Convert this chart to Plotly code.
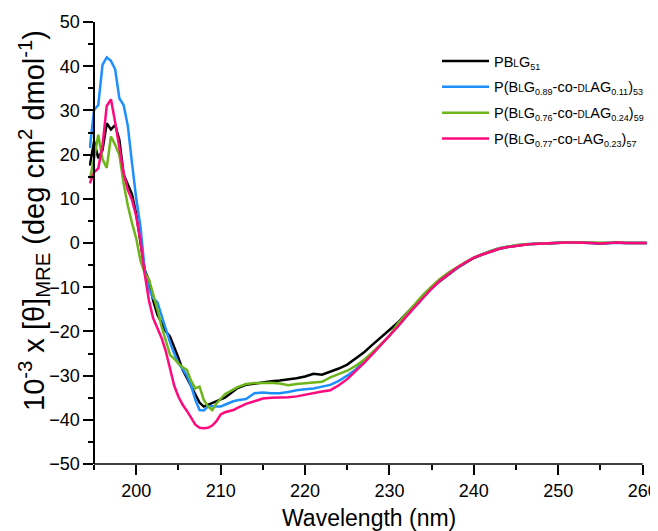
import plotly.graph_objects as go

# ---------------- data ----------------
wavelength_nm = [194.5, 195.0, 195.5, 196.0, 196.5, 197.0, 197.5, 198.0, 198.5, 199.0,
                 199.5, 200.0, 200.5, 201.0, 201.5, 202.0, 202.5, 203.0, 203.5, 204.0,
                 204.5, 205.0, 205.5, 206.0, 206.5, 207.0, 207.5, 208.0, 208.5, 209.0,
                 209.5, 210.0, 210.5, 211.0, 211.5, 212.0,
                 213, 214, 215, 216, 217, 218, 219, 220, 221, 222, 223, 224, 225, 226,
                 227, 228, 229, 230, 231, 232, 233, 234, 235, 236, 237, 238, 239, 240,
                 241, 242, 243, 244, 245, 246, 247, 248, 249, 250, 251, 252, 253, 254,
                 255, 256, 257, 258, 259, 260, 260.5]

pblg51 = [17.5, 23.0, 19.2, 21.0, 27.1, 25.7, 26.7, 23.3, 15.5, 13.3,
          11.0, 6.5, 0.0, -6.1, -8.5, -13.0, -16.2, -18.2, -20.0, -21.2,
          -23.5, -26.0, -28.7, -30.6, -32.5, -34.4, -36.1, -37.0, -36.6, -36.2,
          -35.9, -35.4, -35.0, -34.3, -33.6, -32.8,
          -32.1, -31.8, -31.5, -31.3, -31.1, -30.9, -30.6, -30.2, -29.6, -29.8,
          -29.1, -28.4, -27.5, -26.2, -24.7, -23.0, -21.3, -19.7, -18.0, -16.0,
          -14.0, -12.0, -10.2, -8.6, -7.1, -5.7, -4.5, -3.4, -2.6, -1.9,
          -1.3, -0.9, -0.6, -0.4, -0.2, -0.1, 0.0, 0.0, 0.1, 0.1,
          0.1, 0.0, -0.1, 0.0, 0.1, 0.0, 0.0, 0.0, 0.0]

p_dlag011 = [21.5, 30.1, 31.2, 40.3, 42.0, 41.2, 39.3, 32.7, 31.2, 26.5,
             18.0, 10.0, 3.7, -6.1, -10.5, -12.5, -13.4, -16.5, -19.5, -22.5,
             -25.0, -27.2, -28.5, -30.0, -32.3, -35.5, -37.8, -37.9, -37.0, -36.9,
             -37.0, -37.0, -36.6, -36.2, -35.8, -35.6,
             -35.3, -34.0, -33.8, -34.0, -34.0, -33.7, -33.3, -33.1, -32.9, -32.5,
             -32.1, -31.2, -30.0, -28.6, -26.9, -25.0, -23.0, -21.0, -18.9, -16.6,
             -14.4, -12.3, -10.3, -8.5, -7.0, -5.6, -4.4, -3.3, -2.5, -1.8,
             -1.2, -0.8, -0.5, -0.3, -0.2, -0.1, 0.0, 0.0, 0.1, 0.1,
             0.0, 0.0, 0.0, 0.0, 0.1, 0.0, 0.0, 0.0, 0.0]

p_dlag024 = [14.5, 19.0, 24.5, 19.0, 17.0, 24.1, 22.2, 19.9, 13.5, 8.5,
             4.5, 1.0, -4.0, -6.8, -8.2, -11.5, -15.0, -18.9, -22.3, -25.3,
             -26.2, -27.3, -28.1, -28.7, -31.2, -32.9, -32.5, -35.5, -37.0, -37.8,
             -36.3, -35.3, -34.2, -33.7, -33.2, -32.6,
             -31.9, -31.7, -31.7, -31.6, -31.8, -32.2, -31.9, -31.7, -31.5, -31.4,
             -30.4, -29.7, -28.9, -27.8, -26.4, -24.7, -22.9, -21.0, -18.2, -16.0,
             -13.8, -11.7, -9.8, -8.1, -6.7, -5.4, -4.3, -3.3, -2.5, -1.8,
             -1.2, -0.8, -0.5, -0.3, -0.2, -0.1, 0.0, 0.1, 0.1, 0.1,
             0.1, 0.0, 0.0, 0.0, 0.1, 0.0, 0.0, 0.0, 0.0]

p_lag023 = [13.5, 16.0, 16.9, 22.0, 31.0, 32.5, 27.3, 21.0, 15.8, 12.0,
            9.7, 6.0, 0.5, -7.0, -13.0, -17.0, -19.3, -21.5, -24.5, -28.5,
            -32.3, -34.8, -36.6, -38.0, -39.5, -41.1, -41.8, -41.9, -41.8, -41.3,
            -40.3, -38.8, -38.3, -38.1, -37.8, -37.3,
            -36.4, -35.8, -35.2, -35.0, -35.0, -34.9, -34.7, -34.3, -34.0, -33.6,
            -33.3, -32.2, -30.8, -29.0, -27.1, -25.1, -23.1, -21.1, -18.9, -16.6,
            -14.5, -12.3, -10.3, -8.5, -7.0, -5.6, -4.4, -3.3, -2.6, -1.9,
            -1.3, -0.9, -0.6, -0.4, -0.2, -0.1, 0.0, 0.0, 0.1, 0.1,
            0.1, 0.0, -0.1, 0.0, 0.1, 0.0, 0.0, 0.0, 0.0]

sc = "<span style='font-size:10px'>%s</span>"
sb = "<sub><span style='font-size:9px'>%s</span></sub>"
series_names = [
    "PB" + sc % "L" + "G" + sb % "51",
    "P(B" + sc % "L" + "G" + sb % "0.89" + "-co-" + sc % "DL" + "AG" + sb % "0.11" + ")" + sb % "53",
    "P(B" + sc % "L" + "G" + sb % "0.76" + "-co-" + sc % "DL" + "AG" + sb % "0.24" + ")" + sb % "59",
    "P(B" + sc % "L" + "G" + sb % "0.77" + "-co-" + sc % "L" + "AG" + sb % "0.23" + ")" + sb % "57",
]
series_values = [pblg51, p_dlag011, p_dlag024, p_lag023]
series_colors = ["#000000", "#1E8FFF", "#6DB51A", "#FF0A7E"]

x_ticks = [200, 210, 220, 230, 240, 250, 260]
y_ticks = [-50, -40, -30, -20, -10, 0, 10, 20, 30, 40, 50]

# ---------------- figure ----------------
# the page body has an 8 px margin, so the figure is drawn 8 px in from the corner
OFF = 8
W, H = 658 - OFF, 531 - OFF
L, R, T, B = 81, 10, 14, 67
plot_w = W - L - R
plot_h = H - T - B
x_lo = 194.4
x_hi = x_lo + plot_w / 8.44
font = "Liberation Sans, Arial, sans-serif"


def fx(page_x):
    return (page_x - OFF - L) / plot_w


def fy(page_y):
    return (H - B - (page_y - OFF)) / plot_h


fig = go.Figure()
for i, (name, vals, col) in enumerate(zip(series_names, series_values, series_colors)):
    fig.add_trace(go.Scatter(x=wavelength_nm, y=vals, mode="lines", name=name,
                             legendgroup="g%d" % i,
                             line=dict(color=col, width=2.5)))

fig.update_layout(
    template="none",
    width=W, height=H,
    margin=dict(l=L, r=R, t=T, b=B, autoexpand=False),
    paper_bgcolor="white", plot_bgcolor="white",
    font=dict(family=font, color="black", size=18),
    showlegend=True,
    legend=dict(x=fx(437), y=fy(45), xanchor="left", yanchor="top",
                font=dict(size=14.5, family=font, color="black"),
                bgcolor="rgba(0,0,0,0)", borderwidth=0, itemwidth=47,
                tracegroupgap=4),
    xaxis=dict(range=[x_lo, x_hi], showgrid=False, zeroline=False, showline=False,
               automargin=False,
               tickmode="array", tickvals=x_ticks,
               ticks="outside", ticklen=10, tickwidth=1.5, tickcolor="black",
               tickfont=dict(size=18),
               minor=dict(tick0=195, dtick=5, ticks="outside", ticklen=5,
                          tickwidth=1.5, tickcolor="black")),
    yaxis=dict(range=[-50, 50], showgrid=False, zeroline=False,
               automargin=False,
               anchor="free", position=(195 - x_lo) / (x_hi - x_lo),
               showline=True, linecolor="black", linewidth=1.5,
               tickmode="array", tickvals=y_ticks,
               ticks="outside", ticklen=10, tickwidth=1.5, tickcolor="black",
               tickfont=dict(size=18),
               minor=dict(tick0=-50, dtick=5, ticks="outside", ticklen=5,
                          tickwidth=1.5, tickcolor="black")),
)

# bottom axis line spanning 195-260 nm
fig.add_shape(type="line", xref="x", yref="paper", x0=195, x1=260, y0=0, y1=0,
              line=dict(color="black", width=1.5))

# axis titles
fig.add_annotation(
    text="10<sup>-3</sup> x [θ]<sub>MRE</sub> (deg cm<sup>2</sup> dmol<sup>-1</sup>)",
    xref="paper", yref="paper", x=fx(34), y=fy(221),
    xanchor="center", yanchor="middle", textangle=-90, showarrow=False,
    font=dict(size=29, family=font, color="black"))
fig.add_annotation(
    text="Wavelength (nm)",
    xref="paper", yref="paper", x=fx(368.5), y=fy(518),
    xanchor="center", yanchor="middle", showarrow=False,
    font=dict(size=23, family=font, color="black"))

fig.write_html("out.html")
